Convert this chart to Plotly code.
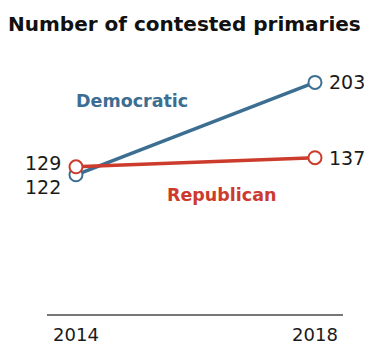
import plotly.graph_objects as go

years = [2014, 2018]
democratic = [122, 203]
republican = [129, 137]
year_labels = ["2014", "2018"]

blue = "#3b6e91"
red = "#cc3b2b"
num_font = "DejaVu Sans"
bold_font = "DejaVu Sans"

fig = go.Figure()
fig.add_trace(go.Scatter(x=years, y=democratic, mode="lines+markers",
                         line=dict(color=blue, width=3.5),
                         marker=dict(size=13, color="white", line=dict(color=blue, width=2)),
                         hoverinfo="skip"))
fig.add_trace(go.Scatter(x=years, y=republican, mode="lines+markers",
                         line=dict(color=red, width=3.5),
                         marker=dict(size=13, color="white", line=dict(color=red, width=2)),
                         hoverinfo="skip"))

lab = dict(family=num_font, size=19, color="#1a1a1a")
# right-side values
fig.add_annotation(x=years[1], y=democratic[1], text=str(democratic[1]), xanchor="left",
                   xshift=12, showarrow=False, font=lab)
fig.add_annotation(x=years[1], y=republican[1], text=str(republican[1]), xanchor="left",
                   xshift=12, showarrow=False, font=lab)
# left-side values
fig.add_annotation(x=years[0], y=republican[0], text=str(republican[0]), xanchor="right",
                   xshift=-13, yshift=4, showarrow=False, font=lab)
fig.add_annotation(x=years[0], y=democratic[0], text=str(democratic[0]), xanchor="right",
                   xshift=-13, yshift=-12, showarrow=False, font=lab)
# series names
fig.add_annotation(x=2014.93, y=186.7, text="<b>Democratic</b>", showarrow=False,
                   font=dict(family=bold_font, size=17.5, color=blue))
fig.add_annotation(x=2016.45, y=104.3, text="<b>Republican</b>", showarrow=False,
                   font=dict(family=bold_font, size=17.5, color=red))

fig.update_layout(
    width=372, height=347,
    margin=dict(l=39, r=37, t=55, b=41, autoexpand=False),
    paper_bgcolor="white", plot_bgcolor="white",
    showlegend=False,
    title=dict(text="<b>Number of contested primaries</b>", x=0, xanchor="left",
               y=1 - 16 / 347, yanchor="middle",
               font=dict(family=bold_font, size=20, color="#111")),
    xaxis=dict(range=[2013.515, 2018.469], tickvals=years, ticktext=year_labels,
               showgrid=False, zeroline=False, showline=True, linecolor="#777", linewidth=2,
               ticks="", ticklabelstandoff=3, automargin=False,
               tickfont=dict(family=num_font, size=18, color="#1a1a1a")),
    yaxis=dict(range=[0, 220], visible=False, showgrid=False, zeroline=False),
)
fig.write_html("out.html")
